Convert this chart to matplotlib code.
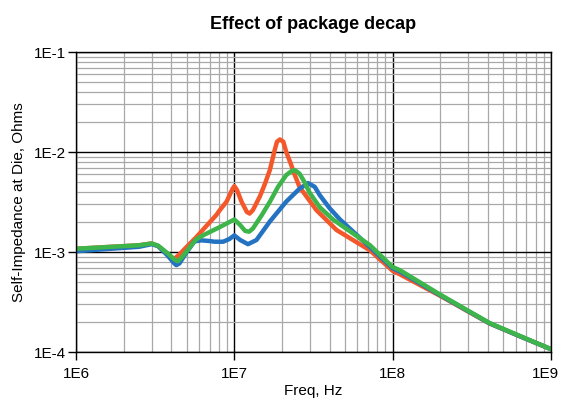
import matplotlib
matplotlib.use("Agg")
import matplotlib.pyplot as plt
from matplotlib.ticker import LogLocator, FixedLocator, NullFormatter
from matplotlib.transforms import ScaledTranslation
import numpy as np

plt.rcParams['font.family'] = ['Liberation Sans', 'DejaVu Sans']

title = "Effect of package decap"
xlabel = "Freq, Hz"
ylabel = "Self-Impedance at Die, Ohms"
xticks = [1e6, 1e7, 1e8, 1e9]
xticklabels = ["1E6", "1E7", "1E8", "1E9"]
yticks = [1e-4, 1e-3, 1e-2, 1e-1]
yticklabels = ["1E-4", "1E-3", "1E-2", "1E-1"]

orange_f = [1e6, 2.5e6, 3.0e6, 3.3e6, 3.7e6, 4.05e6, 4.2e6, 4.5e6, 5.2e6, 5.8e6, 6.5e6, 7.7e6,
            8.1e6, 8.94e6, 9.75e6, 1.0e7, 1.04e7, 1.11e7, 1.2e7, 1.25e7, 1.31e7, 1.45e7, 1.56e7,
            1.676e7, 1.8e7, 1.86e7, 1.94e7, 2.04e7, 2.13e7, 2.27e7, 2.41e7, 2.58e7,
            3.3e7, 4.43e7, 7.2e7, 1.0e8, 1.11e8, 2.0e8, 4.1e8, 6.5e8, 1e9]
orange_z = [1.08e-3, 1.17e-3, 1.22e-3, 1.15e-3, 0.98e-3, 0.88e-3, 0.86e-3, 0.95e-3, 1.2e-3, 1.43e-3, 1.75e-3, 2.35e-3,
            2.63e-3, 3.2e-3, 4.3e-3, 4.57e-3, 4.17e-3, 3.2e-3, 2.52e-3, 2.43e-3, 2.63e-3, 3.6e-3, 4.8e-3,
            6.6e-3, 1.05e-2, 1.27e-2, 1.34e-2, 1.27e-2, 1.0e-2, 7.7e-3, 5.9e-3, 4.5e-3,
            2.63e-3, 1.66e-3, 1.04e-3, 6.5e-4, 6.0e-4, 3.65e-4, 1.93e-4, 1.42e-4, 1.07e-4]

blue_f = [1e6, 2.5e6, 3.0e6, 3.3e6, 3.8e6, 4.15e6, 4.3e6, 4.5e6, 5.0e6, 5.6e6, 6.2e6, 7.0e6,
          7.5e6, 8.5e6, 9.3e6, 1.0e7, 1.09e7, 1.22e7, 1.38e7, 1.68e7, 2.13e7, 2.58e7, 2.92e7,
          3.22e7, 3.47e7, 4.0e7, 4.65e7, 7.2e7, 1.0e8, 1.11e8, 2.0e8, 4.1e8, 6.5e8, 1e9]
blue_z = [1.02e-3, 1.13e-3, 1.2e-3, 1.15e-3, 0.92e-3, 0.78e-3, 0.74e-3, 0.77e-3, 1.0e-3, 1.28e-3, 1.31e-3, 1.29e-3,
          1.27e-3, 1.27e-3, 1.35e-3, 1.47e-3, 1.32e-3, 1.2e-3, 1.32e-3, 2.03e-3, 3.2e-3, 4.3e-3, 4.9e-3,
          4.5e-3, 3.7e-3, 2.75e-3, 2.12e-3, 1.12e-3, 6.9e-4, 6.4e-4, 3.7e-4, 1.94e-4, 1.42e-4, 1.07e-4]

green_f = [1e6, 2.5e6, 3.0e6, 3.3e6, 3.8e6, 4.2e6, 4.4e6, 4.7e6, 5.3e6, 5.8e6, 6.5e6, 8.1e6,
           1.0e7, 1.09e7, 1.17e7, 1.24e7, 1.31e7, 1.49e7, 1.68e7, 1.89e7, 2.13e7, 2.31e7, 2.41e7,
           2.58e7, 2.78e7, 2.98e7, 3.47e7, 4.2e7, 7.2e7, 1.0e8, 1.11e8, 2.0e8, 4.1e8, 6.5e8, 1e9]
green_z = [1.08e-3, 1.17e-3, 1.22e-3, 1.16e-3, 0.97e-3, 0.84e-3, 0.81e-3, 0.9e-3, 1.15e-3, 1.36e-3, 1.5e-3, 1.78e-3,
           2.12e-3, 1.86e-3, 1.63e-3, 1.6e-3, 1.72e-3, 2.34e-3, 3.2e-3, 4.5e-3, 5.9e-3, 6.5e-3, 6.6e-3,
           6.1e-3, 5.0e-3, 3.95e-3, 2.8e-3, 2.12e-3, 1.17e-3, 7.1e-4, 6.6e-4, 3.75e-4, 1.95e-4, 1.43e-4, 1.07e-4]

fig = plt.figure(figsize=(5.61, 4.01), dpi=100)
ax = fig.add_axes([0.1355, 0.122, 0.8465, 0.748])
ax.set_xscale('log')
ax.set_yscale('log')
ax.set_xlim(1e6, 1e9)
ax.set_ylim(1e-4, 1e-1)

ax.xaxis.set_major_locator(FixedLocator(xticks))
ax.set_xticklabels(xticklabels)
ax.yaxis.set_major_locator(FixedLocator(yticks))
ax.set_yticklabels(yticklabels)
ax.xaxis.set_minor_locator(LogLocator(base=10, subs=np.arange(2, 10)))
ax.yaxis.set_minor_locator(LogLocator(base=10, subs=np.arange(2, 10)))
ax.xaxis.set_minor_formatter(NullFormatter())
ax.yaxis.set_minor_formatter(NullFormatter())

ax.grid(True, which='minor', color='#a8a8a8', linewidth=0.9)
ax.grid(True, which='major', color='black', linewidth=1.0)
ax.set_axisbelow(True)
ax.tick_params(which='major', direction='out', length=6, width=1, labelsize=11, colors='black')
ax.tick_params(axis='x', which='major', pad=5)
ax.tick_params(axis='y', which='major', pad=1)
ax.tick_params(which='minor', length=0)
for s in ax.spines.values():
    s.set_color('black')
    s.set_linewidth(1.0)

# keep the last x tick label inside the figure
last = ax.get_xticklabels()[-1]
last.set_transform(last.get_transform() + ScaledTranslation(-5 / 100, 0, fig.dpi_scale_trans))

lw = 3.2
kw = dict(linewidth=lw, solid_capstyle='round', solid_joinstyle='round')
ax.plot(orange_f, orange_z, color='#F4582A', **kw)
ax.plot(blue_f, blue_z, color='#2473C2', **kw)
ax.plot(green_f, green_z, color='#3DB54A', **kw)

ax.set_title(title, fontsize=13, fontweight='bold', pad=17)
ax.set_xlabel(xlabel, fontsize=11, labelpad=2)
ax.set_ylabel(ylabel, fontsize=11, labelpad=6)

fig.savefig("out.png", dpi=100)
